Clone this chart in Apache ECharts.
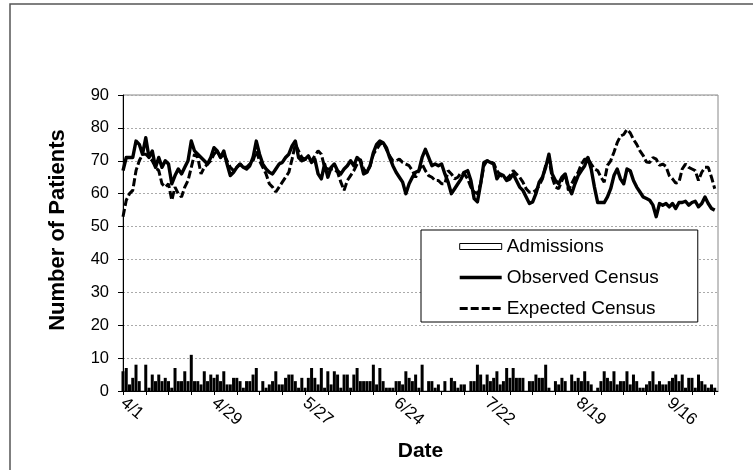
<!DOCTYPE html>
<html>
<head>
<meta charset="utf-8">
<script src="https://cdn.jsdelivr.net/npm/echarts@6/dist/echarts.min.js"></script>
<style>
html,body{margin:0;padding:0;background:#fff;}
#chart{width:753px;height:470px;}
</style>
</head>
<body>
<div id="chart"></div>
<script>
// Tick labels (every 28 days starting 4/1)
const tickLabels = ['4/1','4/29','5/27','6/24','7/22','8/19','9/16'];
const seriesNames = ['Admissions','Observed Census','Expected Census'];

// Daily values, day 0 = 4/1 ... day 182 = 9/30
const admissions = [
 6,7,2,4,8,3,0,8,1,5,
 3,5,3,4,3,1,7,3,3,6,
 3,11,3,3,2,6,3,5,4,5,
 3,6,2,2,4,4,3,1,3,3,
 5,7,0,3,1,2,3,6,2,2,
 4,5,5,3,1,4,1,4,7,4,
 2,7,1,6,2,6,5,1,5,5,
 1,5,7,3,3,3,3,8,2,7,
 3,1,1,1,3,3,2,6,4,3,
 5,1,8,0,3,3,1,2,0,3,
 0,4,3,1,2,2,0,3,3,8,
 5,2,5,3,4,6,2,3,7,4,
 7,4,4,4,0,3,3,5,4,4,
 8,1,0,3,2,4,3,0,5,3,
 4,3,6,3,2,0,1,3,6,4,
 3,6,2,3,3,6,2,5,3,1,
 1,2,3,6,2,3,2,2,3,4,
 5,3,5,1,4,4,1,5,3,2,
 1,2,1
];

const observed = [
 67,71,71,71,76,75,72,77,71,73,
 68,71,68,70,69,63,65.5,67.5,66,68,
 70,76,73,72,71,70,69,71,74,73,
 71,73,69,65.5,66.5,68,69,68,67.5,68.5,
 71,76,72,69,67.5,66.5,66,67.5,69,69.5,
 71,72,74.5,76,71,70,70.5,71.5,69.5,70.5,
 66,64.5,69,65,68,69,67,66,67.5,68.5,
 70,68.5,71,70,66,66.5,68.5,72.5,75,76,
 75.5,74,71,68.5,66.5,65,63.5,60,63,65,
 66.5,67,71,73.5,71,68.5,69,68.5,69,66,
 63.5,60,61.5,63,64.5,66.5,67,64,58.5,57.5,
 63,69.5,70,69.5,69,64.5,66,65.5,64,64.5,
 66,64,62,61,59,57,57.5,60,63.5,65,
 68,72,66,64,63,65,66,62,60,63,
 65.5,67,68.5,71,67.5,62,57.3,57.3,57.3,59,
 61.5,65.5,67.5,64.5,63,67.5,67,64,62,60.5,
 59,58.5,58,56.5,53,57,56.5,57,56,57,
 55.5,57.3,57.3,57.7,56.5,57.3,57.7,56,57,59,
 57,55.5,55
];

const expected = [
 53,58,60,61,67,70,72,72,71,70,
 68,67,63,62,63,58,62,60,59,62,
 64,68,72,71,66,68,69,70,72,73,
 71,72,70,68,67,68,69,68,68,69,
 70,73,70,68,66,63,62,60.5,62,63.5,
 65,66.5,70.5,75,73,71,70.5,70.5,70,71.5,
 73,72,68,67.5,67.5,67.5,66.5,63.5,61,64,
 65.5,67,69,70.5,67.5,66.5,68.5,72,73.5,75,
 75.5,73.5,71.5,70,70,70.5,69.5,69,68.5,67,
 65,67,69,67,65.5,65,64,64,63,63,
 67,66,64.5,65,66.5,66,64.5,62,60.5,60,
 63,68.5,70,69.6,69.3,67,65.7,65,64.5,65.5,
 67,66,65,63.5,61.5,60.4,60.4,61,62.5,64.5,
 68.6,70.5,65,62,61.5,64,66,61,63,65,
 66.5,69,70.5,70.6,69,67.5,67,65,63.5,68.6,
 70,72.6,75.5,77.5,78,79.5,78.5,76.5,75,73,
 71.6,69.6,69.5,71,70.5,68.6,69,68.3,65.5,64.5,
 63.2,63.5,67.5,69,68,67.5,67,64,66.5,68,
 68,65,61.5
];

const toPairs = arr => arr.map((v, i) => [i, v]);
const FONT = "'Liberation Sans', Arial, sans-serif";

const chart = echarts.init(document.getElementById('chart'), null, {renderer: 'canvas'});
chart.setOption({
  animation: false,
  backgroundColor: '#fff',
  textStyle: {fontFamily: FONT, color: '#000'},
  graphic: [{
    type: 'rect', silent: true, z: 0,
    shape: {x: 10, y: 4, width: 800, height: 520},
    style: {fill: 'none', stroke: '#555', lineWidth: 1.5}
  }],
  grid: {
    left: 123, right: 35, top: 95, bottom: 79,
    show: true, borderColor: '#888', borderWidth: 1,
    outerBoundsMode: 'none'
  },
  legend: {
    orient: 'vertical',
    left: 421, top: 230,
    padding: [7, 39, 4, 37],
    itemGap: 12,
    itemWidth: 42, itemHeight: 6,
    itemTextGap: 5,
    backgroundColor: '#fff',
    borderColor: '#000', borderWidth: 1,
    textStyle: {fontFamily: FONT, fontSize: 19, color: '#000', lineHeight: 19},
    data: [
      {name: seriesNames[0], icon: 'rect', itemStyle: {color: '#fff', borderColor: '#000', borderWidth: 1}},
      {name: seriesNames[1], itemStyle: {opacity: 0}, lineStyle: {width: 3.4, color: '#000', type: 'solid'}},
      {name: seriesNames[2], itemStyle: {opacity: 0}, lineStyle: {width: 3, color: '#000', type: [8, 3]}}
    ]
  },
  xAxis: {
    type: 'value',
    min: 0, max: 183, interval: 7,
    name: 'Date',
    nameLocation: 'middle',
    nameGap: 50,
    nameTextStyle: {fontFamily: FONT, fontSize: 21, fontWeight: 'bold', color: '#000'},
    axisLine: {show: true, lineStyle: {color: '#000', width: 1}},
    axisTick: {show: true, length: 4, lineStyle: {color: '#000'}},
    splitLine: {show: false},
    axisLabel: {
      rotate: -40,
      margin: 10,
      fontFamily: FONT, fontSize: 17, color: '#000',
      showMaxLabel: false,
      formatter: v => (v % 28 === 0 && tickLabels[v / 28] !== undefined) ? tickLabels[v / 28] : ''
    }
  },
  yAxis: {
    type: 'value',
    min: 0, max: 90, interval: 10,
    name: 'Number of Patients',
    nameLocation: 'middle',
    nameGap: 54,
    nameTextStyle: {fontFamily: FONT, fontSize: 22, fontWeight: 'bold', color: '#000', padding: [0, 0, 0, 26]},
    axisLine: {show: true, lineStyle: {color: '#000', width: 1}},
    axisTick: {show: true, length: 5, lineStyle: {color: '#000'}},
    axisLabel: {margin: 14, fontFamily: FONT, fontSize: 16.5, color: '#000'},
    splitLine: {show: true, lineStyle: {color: '#aaa', type: [2, 2], width: 1}}
  },
  series: [
    {
      name: seriesNames[0], type: 'bar',
      data: toPairs(admissions),
      barWidth: 3,
      itemStyle: {color: '#000'},
      z: 2
    },
    {
      name: seriesNames[1], type: 'line',
      data: toPairs(observed),
      symbol: 'none', showSymbol: false,
      lineStyle: {color: '#000', width: 3.4, type: 'solid', join: 'round'},
      itemStyle: {color: '#000'},
      z: 4
    },
    {
      name: seriesNames[2], type: 'line',
      data: toPairs(expected),
      symbol: 'none', showSymbol: false,
      lineStyle: {color: '#000', width: 3, type: [8, 3]},
      itemStyle: {color: '#000'},
      z: 3
    }
  ]
});
</script>
</body>
</html>
